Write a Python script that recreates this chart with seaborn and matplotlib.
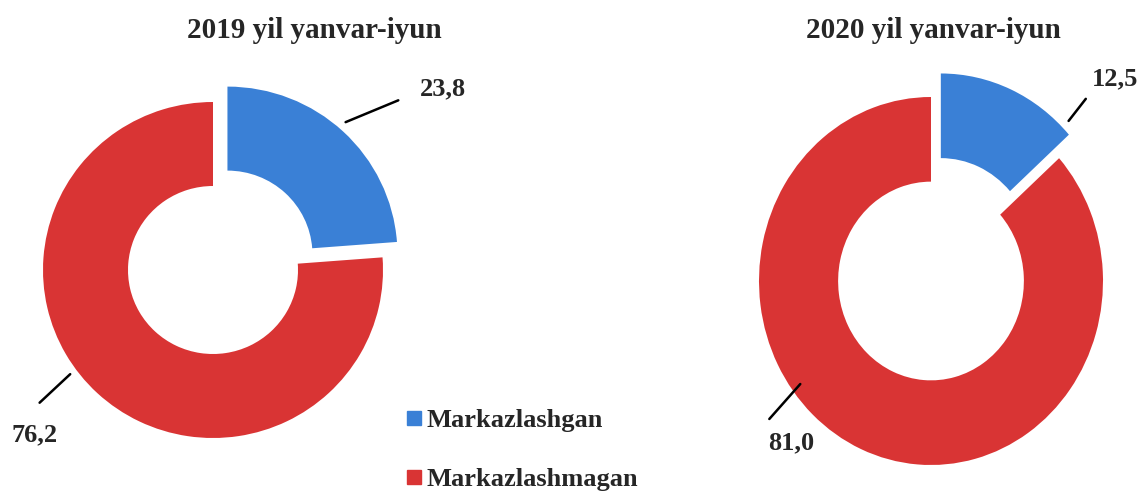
import matplotlib
matplotlib.use("Agg")
import matplotlib.pyplot as plt
import seaborn as sns
from matplotlib.lines import Line2D

sns.set_theme(style="white")
plt.rcParams['font.family'] = ['Liberation Serif', 'DejaVu Serif']
plt.rcParams['font.weight'] = 'bold'

# data
categories = ['Markazlashgan', 'Markazlashmagan']
titles = ['2019 yil yanvar-iyun', '2020 yil yanvar-iyun']
values_2019 = [23.8, 76.2]
values_2020 = [12.5, 81.0]
value_labels_2019 = ['23,8', '76,2']
value_labels_2020 = ['12,5', '81,0']

colors = ['#3A80D6', '#D93434']
W, H = 1143, 495

fig = plt.figure(figsize=(W / 100, H / 100), dpi=100)
fig.patch.set_facecolor('white')

L = 1.3


def donut(cx, cy, rx, ry, vals, labels, explode, width, label_pos, line_pos):
    # axes in pixel coords, centred on the donut
    sx, sy = 2 * L * rx, 2 * L * ry
    ax = fig.add_axes([(cx - sx / 2) / W, (H - cy - sy / 2) / H, sx / W, sy / H])
    wedges, _ = ax.pie(vals, colors=colors, startangle=90, counterclock=False,
                       explode=[explode, 0], radius=1, frame=False,
                       wedgeprops=dict(width=width, linewidth=0))
    for w in wedges:
        w.set_clip_on(False)
    ax.set_xlim(-L, L)
    ax.set_ylim(-L, L)
    ax.set_aspect('auto')
    ax.axis('off')
    for lab, tp, (p0, p1) in zip(labels, label_pos, line_pos):
        ax.plot([p0[0], p1[0]], [p0[1], p1[1]], color='black', lw=1.8,
                clip_on=False)
        ax.text(tp[0], tp[1], lab, ha='center', va='center', fontsize=19,
                fontweight='bold', clip_on=False)
    return wedges


donut(213, 270, 170, 168, values_2019, value_labels_2019, 0.125, 0.5,
      [(1.35, 1.08), (-1.05, -0.98)],
      [((0.78, 0.88), (1.09, 1.01)), ((-0.84, -0.62), (-1.02, -0.79))])
donut(931, 281, 172, 184, values_2020, value_labels_2020, 0.14, 0.46,
      [(1.07, 1.1), (-0.81, -0.88)],
      [((0.8, 0.87), (0.9, 0.99)), ((-0.76, -0.56), (-0.94, -0.75))])

fig.text(314 / W, 1 - 30 / H, titles[0], ha='center', va='center',
         fontsize=21, fontweight='bold')
fig.text(933 / W, 1 - 30 / H, titles[1], ha='center', va='center',
         fontsize=21, fontweight='bold')

handles = [Line2D([0], [0], marker='s', linestyle='', markersize=10.5,
                  markerfacecolor=c, markeredgecolor=c) for c in colors]
fig.legend(handles, categories, loc='center left',
           bbox_to_anchor=(392 / W, 1 - 450 / H), frameon=False,
           prop=dict(size=19, weight='bold'), handlelength=0.7,
           handletextpad=0.1, labelspacing=1.35, borderpad=0)

fig.savefig('out.png', dpi=100, facecolor='white')
